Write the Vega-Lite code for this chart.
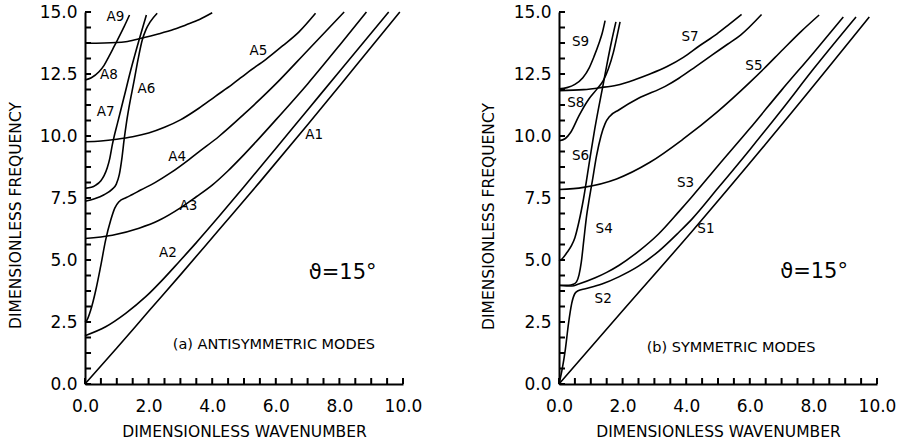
{
"$schema":"https://vega.github.io/schema/vega-lite/v6.json",
"background":"white",
"padding":{"left":8,"top":3,"right":0,"bottom":0},
"spacing":156,
"bounds":"flush",
"config":{"view":{"stroke":null},"axis":{"labelFont":"DejaVu Sans","labelFontSize":17,"titleFont":"DejaVu Sans","titleFontSize":15.5,"titleFontWeight":"normal","labelColor":"black","titleColor":"black","domainColor":"black","domainWidth":2,"ticks":false,"tickSize":0,"grid":false}},
"datasets":{
"xt":[{"v":0},{"v":0.5},{"v":1},{"v":1.5},{"v":2},{"v":2.5},{"v":3},{"v":3.5},{"v":4},{"v":4.5},{"v":5},{"v":5.5},{"v":6},{"v":6.5},{"v":7},{"v":7.5},{"v":8},{"v":8.5},{"v":9},{"v":9.5},{"v":10}],
"yt":[{"v":0},{"v":0.625},{"v":1.25},{"v":1.875},{"v":2.5},{"v":3.125},{"v":3.75},{"v":4.375},{"v":5},{"v":5.625},{"v":6.25},{"v":6.875},{"v":7.5},{"v":8.125},{"v":8.75},{"v":9.375},{"v":10},{"v":10.625},{"v":11.25},{"v":11.875},{"v":12.5},{"v":13.125},{"v":13.75},{"v":14.375},{"v":15}],
"a":[
{"m":"A1","k":0,"f":0},{"m":"A1","k":1,"f":1.45},{"m":"A1","k":2,"f":2.93},{"m":"A1","k":3,"f":4.4},{"m":"A1","k":4.2,"f":6.2},{"m":"A1","k":5.5,"f":8.15},{"m":"A1","k":7,"f":10.45},{"m":"A1","k":8.5,"f":12.8},{"m":"A1","k":9.9,"f":15},
{"m":"A2","k":0,"f":1.95},{"m":"A2","k":0.65,"f":2.31},{"m":"A2","k":1.28,"f":2.85},{"m":"A2","k":1.91,"f":3.52},{"m":"A2","k":2.43,"f":4.19},{"m":"A2","k":2.96,"f":4.93},{"m":"A2","k":3.48,"f":5.67},{"m":"A2","k":4.21,"f":6.75},{"m":"A2","k":5,"f":7.95},{"m":"A2","k":6,"f":9.5},{"m":"A2","k":7,"f":11.05},{"m":"A2","k":8,"f":12.6},{"m":"A2","k":9.55,"f":15},
{"m":"A3","k":0,"f":5.87},{"m":"A3","k":0.86,"f":6.0},{"m":"A3","k":1.7,"f":6.28},{"m":"A3","k":2.33,"f":6.6},{"m":"A3","k":3,"f":7.1},{"m":"A3","k":3.5,"f":7.55},{"m":"A3","k":4,"f":8.02},{"m":"A3","k":4.5,"f":8.6},{"m":"A3","k":5,"f":9.25},{"m":"A3","k":6,"f":10.65},{"m":"A3","k":7,"f":12.1},{"m":"A3","k":8,"f":13.65},{"m":"A3","k":8.85,"f":15},
{"m":"A4","k":0,"f":2.5},{"m":"A4","k":0.05,"f":2.55},{"m":"A4","k":0.18,"f":2.98},{"m":"A4","k":0.34,"f":3.79},{"m":"A4","k":0.49,"f":4.73},{"m":"A4","k":0.65,"f":5.81},{"m":"A4","k":0.81,"f":6.61},{"m":"A4","k":0.94,"f":7.1},{"m":"A4","k":1.07,"f":7.35},{"m":"A4","k":1.3,"f":7.52},{"m":"A4","k":1.49,"f":7.64},{"m":"A4","k":1.75,"f":7.82},{"m":"A4","k":2.2,"f":8.12},{"m":"A4","k":2.7,"f":8.52},{"m":"A4","k":3.27,"f":9.05},{"m":"A4","k":3.58,"f":9.36},{"m":"A4","k":4.21,"f":9.98},{"m":"A4","k":5,"f":10.88},{"m":"A4","k":6,"f":12.1},{"m":"A4","k":7,"f":13.45},{"m":"A4","k":8.15,"f":15},
{"m":"A5","k":0,"f":9.77},{"m":"A5","k":0.5,"f":9.8},{"m":"A5","k":1,"f":9.87},{"m":"A5","k":1.5,"f":9.97},{"m":"A5","k":2,"f":10.12},{"m":"A5","k":2.5,"f":10.35},{"m":"A5","k":3,"f":10.65},{"m":"A5","k":3.58,"f":11.12},{"m":"A5","k":4.1,"f":11.6},{"m":"A5","k":4.63,"f":12.08},{"m":"A5","k":5.15,"f":12.6},{"m":"A5","k":5.68,"f":13.08},{"m":"A5","k":6.2,"f":13.62},{"m":"A5","k":6.73,"f":14.2},{"m":"A5","k":7.25,"f":14.95},
{"m":"A6","k":0,"f":7.37},{"m":"A6","k":0.3,"f":7.47},{"m":"A6","k":0.6,"f":7.63},{"m":"A6","k":0.85,"f":7.85},{"m":"A6","k":0.98,"f":8.05},{"m":"A6","k":1.08,"f":8.45},{"m":"A6","k":1.16,"f":9.1},{"m":"A6","k":1.23,"f":9.85},{"m":"A6","k":1.3,"f":10.5},{"m":"A6","k":1.38,"f":11.13},{"m":"A6","k":1.54,"f":12.2},{"m":"A6","k":1.67,"f":13.1},{"m":"A6","k":1.8,"f":13.87},{"m":"A6","k":1.92,"f":14.3},{"m":"A6","k":2.05,"f":14.6},{"m":"A6","k":2.27,"f":14.95},
{"m":"A7","k":0,"f":7.89},{"m":"A7","k":0.2,"f":7.93},{"m":"A7","k":0.34,"f":8.02},{"m":"A7","k":0.5,"f":8.2},{"m":"A7","k":0.6,"f":8.4},{"m":"A7","k":0.7,"f":8.72},{"m":"A7","k":0.78,"f":9.1},{"m":"A7","k":0.86,"f":9.65},{"m":"A7","k":0.92,"f":10.0},{"m":"A7","k":1.02,"f":10.51},{"m":"A7","k":1.23,"f":11.58},{"m":"A7","k":1.44,"f":12.66},{"m":"A7","k":1.7,"f":13.87},{"m":"A7","k":1.93,"f":14.88},
{"m":"A8","k":0,"f":12.26},{"m":"A8","k":0.2,"f":12.35},{"m":"A8","k":0.44,"f":12.59},{"m":"A8","k":0.6,"f":12.85},{"m":"A8","k":0.75,"f":13.2},{"m":"A8","k":0.9,"f":13.57},{"m":"A8","k":1.02,"f":13.87},{"m":"A8","k":1.23,"f":14.41},{"m":"A8","k":1.4,"f":14.88},
{"m":"A9","k":0,"f":13.74},{"m":"A9","k":0.6,"f":13.75},{"m":"A9","k":1.28,"f":13.8},{"m":"A9","k":1.7,"f":13.92},{"m":"A9","k":2.33,"f":14.12},{"m":"A9","k":2.8,"f":14.3},{"m":"A9","k":3.17,"f":14.48},{"m":"A9","k":3.6,"f":14.7},{"m":"A9","k":4.0,"f":14.97}
],
"b":[
{"m":"S1","k":0,"f":0},{"m":"S1","k":2,"f":2.95},{"m":"S1","k":4.18,"f":6.15},{"m":"S1","k":7,"f":10.45},{"m":"S1","k":9.76,"f":14.8},
{"m":"S2","k":0,"f":0},{"m":"S2","k":0.1,"f":0.6},{"m":"S2","k":0.2,"f":1.4},{"m":"S2","k":0.3,"f":2.45},{"m":"S2","k":0.4,"f":3.25},{"m":"S2","k":0.5,"f":3.65},{"m":"S2","k":0.6,"f":3.76},{"m":"S2","k":0.83,"f":3.84},{"m":"S2","k":1.35,"f":4.03},{"m":"S2","k":1.88,"f":4.32},{"m":"S2","k":2.5,"f":4.75},{"m":"S2","k":3.13,"f":5.35},{"m":"S2","k":3.77,"f":6.12},{"m":"S2","k":4.18,"f":6.65},{"m":"S2","k":5,"f":7.9},{"m":"S2","k":6,"f":9.45},{"m":"S2","k":7,"f":11.05},{"m":"S2","k":8,"f":12.7},{"m":"S2","k":9.34,"f":14.8},
{"m":"S3","k":0,"f":3.97},{"m":"S3","k":0.41,"f":3.95},{"m":"S3","k":0.62,"f":4.03},{"m":"S3","k":1.14,"f":4.28},{"m":"S3","k":1.5,"f":4.5},{"m":"S3","k":1.88,"f":4.78},{"m":"S3","k":2.5,"f":5.35},{"m":"S3","k":3.13,"f":6.05},{"m":"S3","k":3.77,"f":6.95},{"m":"S3","k":4.18,"f":7.55},{"m":"S3","k":5,"f":8.8},{"m":"S3","k":6,"f":10.3},{"m":"S3","k":7,"f":11.85},{"m":"S3","k":8,"f":13.35},{"m":"S3","k":8.94,"f":14.8},
{"m":"S4","k":0,"f":3.98},{"m":"S4","k":0.3,"f":3.98},{"m":"S4","k":0.45,"f":4.02},{"m":"S4","k":0.55,"f":4.12},{"m":"S4","k":0.63,"f":4.4},{"m":"S4","k":0.7,"f":4.9},{"m":"S4","k":0.78,"f":5.8},{"m":"S4","k":0.87,"f":6.8},{"m":"S4","k":0.95,"f":7.45},{"m":"S4","k":1.05,"f":8.2},{"m":"S4","k":1.18,"f":9.2},{"m":"S4","k":1.32,"f":10.0},{"m":"S4","k":1.45,"f":10.5},{"m":"S4","k":1.6,"f":10.8},{"m":"S4","k":1.88,"f":11.05},{"m":"S4","k":2.5,"f":11.52},{"m":"S4","k":3.34,"f":12.0},{"m":"S4","k":3.77,"f":12.33},{"m":"S4","k":4.3,"f":12.8},{"m":"S4","k":4.82,"f":13.27},{"m":"S4","k":5.3,"f":13.7},{"m":"S4","k":5.71,"f":14.07},{"m":"S4","k":6.37,"f":14.9},
{"m":"S5","k":0,"f":7.84},{"m":"S5","k":0.77,"f":7.93},{"m":"S5","k":1.81,"f":8.27},{"m":"S5","k":2.86,"f":8.94},{"m":"S5","k":3.91,"f":9.88},{"m":"S5","k":4.96,"f":10.95},{"m":"S5","k":6.0,"f":12.16},{"m":"S5","k":6.45,"f":12.72},{"m":"S5","k":7.05,"f":13.5},{"m":"S5","k":7.6,"f":14.2},{"m":"S5","k":8.18,"f":14.88},
{"m":"S6","k":0,"f":4.97},{"m":"S6","k":0.1,"f":5.05},{"m":"S6","k":0.25,"f":5.3},{"m":"S6","k":0.4,"f":5.6},{"m":"S6","k":0.5,"f":5.9},{"m":"S6","k":0.62,"f":6.5},{"m":"S6","k":0.77,"f":7.46},{"m":"S6","k":0.97,"f":9.07},{"m":"S6","k":1.1,"f":10.1},{"m":"S6","k":1.24,"f":11.09},{"m":"S6","k":1.37,"f":11.95},{"m":"S6","k":1.5,"f":12.84},{"m":"S6","k":1.65,"f":13.8},{"m":"S6","k":1.79,"f":14.6},
{"m":"S7","k":0,"f":11.83},{"m":"S7","k":0.77,"f":11.87},{"m":"S7","k":1.3,"f":11.95},{"m":"S7","k":1.81,"f":12.05},{"m":"S7","k":2.4,"f":12.28},{"m":"S7","k":2.86,"f":12.5},{"m":"S7","k":3.4,"f":12.8},{"m":"S7","k":3.91,"f":13.17},{"m":"S7","k":4.43,"f":13.65},{"m":"S7","k":4.96,"f":14.11},{"m":"S7","k":5.35,"f":14.5},{"m":"S7","k":5.74,"f":14.9},
{"m":"S8","k":0,"f":9.81},{"m":"S8","k":0.2,"f":9.9},{"m":"S8","k":0.37,"f":10.15},{"m":"S8","k":0.63,"f":10.82},{"m":"S8","k":0.94,"f":11.49},{"m":"S8","k":1.2,"f":11.9},{"m":"S8","k":1.4,"f":12.25},{"m":"S8","k":1.55,"f":12.7},{"m":"S8","k":1.71,"f":13.37},{"m":"S8","k":1.82,"f":14.0},{"m":"S8","k":1.92,"f":14.6},
{"m":"S9","k":0,"f":11.9},{"m":"S9","k":0.25,"f":11.95},{"m":"S9","k":0.5,"f":12.08},{"m":"S9","k":0.75,"f":12.35},{"m":"S9","k":0.95,"f":12.75},{"m":"S9","k":1.1,"f":13.2},{"m":"S9","k":1.26,"f":13.75},{"m":"S9","k":1.36,"f":14.15},{"m":"S9","k":1.45,"f":14.65}
],
"alab":[
{"t":"A9","k":0.96,"f":14.78},{"t":"A8","k":0.75,"f":12.46},{"t":"A7","k":0.65,"f":10.98},{"t":"A6","k":1.93,"f":11.88},{"t":"A5","k":5.45,"f":13.44},{"t":"A4","k":2.9,"f":9.17},{"t":"A3","k":3.25,"f":7.18},{"t":"A2","k":2.61,"f":5.27},{"t":"A1","k":7.21,"f":10.04}
],
"blab":[
{"t":"S9","k":0.68,"f":13.8},{"t":"S8","k":0.53,"f":11.33},{"t":"S7","k":4.12,"f":13.98},{"t":"S6","k":0.68,"f":9.18},{"t":"S5","k":6.13,"f":12.84},{"t":"S4","k":1.42,"f":6.25},{"t":"S3","k":3.98,"f":8.1},{"t":"S2","k":1.39,"f":3.43},{"t":"S1","k":4.62,"f":6.25}
]
},
"hconcat":[
{"width":318,"height":372,
"layer":[
{"data":{"name":"a"},"mark":{"type":"line","color":"black","strokeWidth":1.6,"interpolate":"monotone"},
"encoding":{
"x":{"field":"k","type":"quantitative","scale":{"domain":[0,10],"nice":false,"zero":false},
"axis":{"title":"DIMENSIONLESS WAVENUMBER","values":[0,2,4,6,8,10],"format":".1f","labelPadding":14,"labelFlush":false,"labelOverlap":false,"titleY":52,"titleBaseline":"alphabetic"}},
"y":{"field":"f","type":"quantitative","scale":{"domain":[0,15],"nice":false,"zero":false},
"axis":{"title":"DIMENSIONLESS FREQUENCY","values":[0,2.5,5,7.5,10,12.5,15],"format":".1f","labelPadding":8,"labelFlush":false,"labelOverlap":false,"titleX":-65,"titleY":203,"titleBaseline":"alphabetic"}},
"detail":{"field":"m"}}},
{"data":{"name":"xt"},"mark":{"type":"tick","orient":"vertical","color":"black","size":6,"thickness":2,"opacity":1},
"encoding":{"x":{"field":"v","type":"quantitative"},"y":{"datum":0.12}}},
{"data":{"name":"yt"},"mark":{"type":"tick","orient":"horizontal","color":"black","size":6,"thickness":2,"opacity":1},
"encoding":{"y":{"field":"v","type":"quantitative"},"x":{"datum":0.095}}},
{"data":{"name":"alab"},"mark":{"type":"text","font":"DejaVu Sans","fontSize":13.5,"color":"black"},
"encoding":{"x":{"field":"k","type":"quantitative"},"y":{"field":"f","type":"quantitative"},"text":{"field":"t"}}},
{"data":{"values":[{"t":"ϑ=15°","k":8.1,"f":4.48}]},"mark":{"type":"text","font":"DejaVu Sans","fontSize":21,"color":"black"},
"encoding":{"x":{"field":"k","type":"quantitative"},"y":{"field":"f","type":"quantitative"},"text":{"field":"t"}}},
{"data":{"values":[{"t":"(a) ANTISYMMETRIC MODES","k":5.94,"f":1.57}]},"mark":{"type":"text","font":"DejaVu Sans","fontSize":14.5,"color":"black"},
"encoding":{"x":{"field":"k","type":"quantitative"},"y":{"field":"f","type":"quantitative"},"text":{"field":"t"}}}
]},
{"width":318,"height":372,
"layer":[
{"data":{"name":"b"},"mark":{"type":"line","color":"black","strokeWidth":1.6,"interpolate":"monotone"},
"encoding":{
"x":{"field":"k","type":"quantitative","scale":{"domain":[0,10],"nice":false,"zero":false},
"axis":{"title":"DIMENSIONLESS WAVENUMBER","values":[0,2,4,6,8,10],"format":".1f","labelPadding":14,"labelFlush":false,"labelOverlap":false,"titleY":52,"titleBaseline":"alphabetic"}},
"y":{"field":"f","type":"quantitative","scale":{"domain":[0,15],"nice":false,"zero":false},
"axis":{"title":"DIMENSIONLESS FREQUENCY","values":[0,2.5,5,7.5,10,12.5,15],"format":".1f","labelPadding":8,"labelFlush":false,"labelOverlap":false,"titleX":-66,"titleY":204,"titleBaseline":"alphabetic"}},
"detail":{"field":"m"}}},
{"data":{"name":"xt"},"mark":{"type":"tick","orient":"vertical","color":"black","size":6,"thickness":2,"opacity":1},
"encoding":{"x":{"field":"v","type":"quantitative"},"y":{"datum":0.12}}},
{"data":{"name":"yt"},"mark":{"type":"tick","orient":"horizontal","color":"black","size":6,"thickness":2,"opacity":1},
"encoding":{"y":{"field":"v","type":"quantitative"},"x":{"datum":0.095}}},
{"data":{"name":"blab"},"mark":{"type":"text","font":"DejaVu Sans","fontSize":13.5,"color":"black"},
"encoding":{"x":{"field":"k","type":"quantitative"},"y":{"field":"f","type":"quantitative"},"text":{"field":"t"}}},
{"data":{"values":[{"t":"ϑ=15°","k":8.02,"f":4.52}]},"mark":{"type":"text","font":"DejaVu Sans","fontSize":21,"color":"black"},
"encoding":{"x":{"field":"k","type":"quantitative"},"y":{"field":"f","type":"quantitative"},"text":{"field":"t"}}},
{"data":{"values":[{"t":"(b) SYMMETRIC MODES","k":5.41,"f":1.47}]},"mark":{"type":"text","font":"DejaVu Sans","fontSize":14.5,"color":"black"},
"encoding":{"x":{"field":"k","type":"quantitative"},"y":{"field":"f","type":"quantitative"},"text":{"field":"t"}}}
]}
]
}
